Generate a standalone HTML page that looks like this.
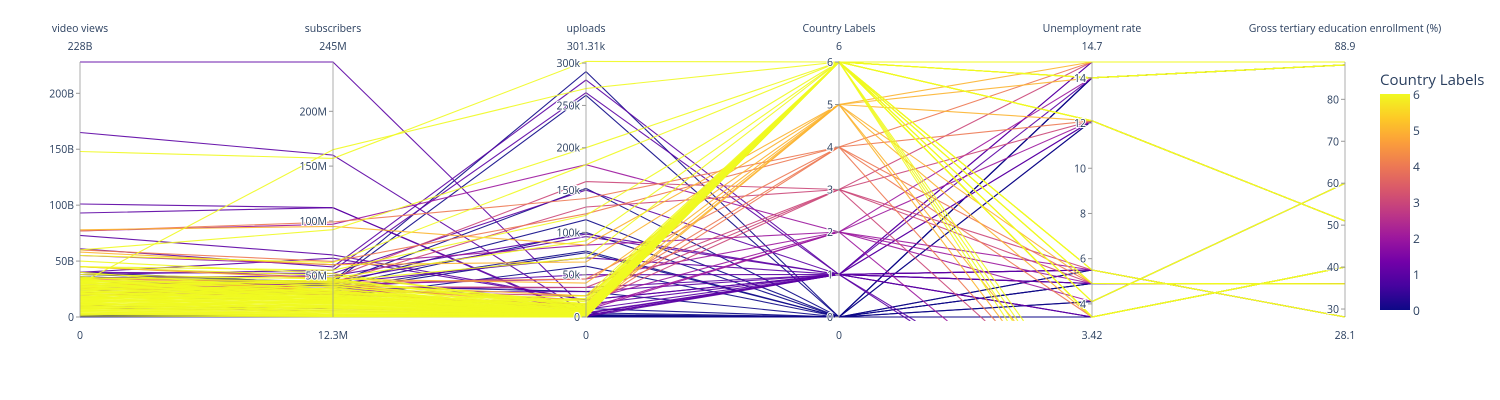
<!DOCTYPE html>
<html><head><meta charset="utf-8">
<style>
html,body{margin:0;padding:0;background:#fff;width:1500px;height:400px;overflow:hidden;}
svg{display:block;font-family:"Open Sans","Liberation Sans",sans-serif;}
text{fill:#2a3f5f;}
</style></head>
<body>
<svg id="chart" width="1500" height="400" viewBox="0 0 1500 400" xmlns="http://www.w3.org/2000/svg">
<defs>
<clipPath id="plotclip"><rect x="0" y="55" width="1500" height="266"/></clipPath>
<linearGradient id="cbgrad" x1="0" y1="1" x2="0" y2="0">
<stop offset="0" stop-color="#0d0887"/><stop offset="0.111" stop-color="#46039f"/><stop offset="0.222" stop-color="#7201a8"/><stop offset="0.333" stop-color="#9c179e"/><stop offset="0.444" stop-color="#bd3786"/><stop offset="0.556" stop-color="#d8576b"/><stop offset="0.667" stop-color="#ed7953"/><stop offset="0.778" stop-color="#fb9f3a"/><stop offset="0.889" stop-color="#fdca26"/><stop offset="1" stop-color="#f0f921"/>
</linearGradient>
</defs>
<g id="lines" clip-path="url(#plotclip)"></g>
<g id="axes"></g>
<g id="colorbar">
<text x="1380" y="85" font-size="15">Country Labels</text>
<rect x="1380" y="94" width="30" height="216" fill="url(#cbgrad)"/>
</g>
</svg>
<script>
const dimNames = ["video views","subscribers","uploads","Country Labels","Unemployment rate","Gross tertiary education enrollment (%)"];
const dimMin = [0, 12.3, 0, 0, 3.42, 28.1];
const dimMax = [228, 245, 301.31, 6, 14.7, 88.9];
const minLabels = ["0","12.3M","0","0","3.42","28.1"];
const maxLabels = ["228B","245M","301.31k","6","14.7","88.9"];
const tickValues = [[0,50,100,150,200],[50,100,150,200],[0,50,100,150,200,250,300],[0,1,2,3,4,5,6],[4,6,8,10,12,14],[30,40,50,60,70,80]];
const tickLabels = [["0","50B","100B","150B","200B"],["50M","100M","150M","200M"],["0","50k","100k","150k","200k","250k","300k"],["0","1","2","3","4","5","6"],["4","6","8","10","12","14"],["30","40","50","60","70","80"]];
const cbTicks = [0,1,2,3,4,5,6];
// rows: views(B), subscribers(M), uploads(k), country label, unemployment, tertiary
const rows = [
[0.5,13,0.5,0,14,88.2],[1,13.5,1,0,14,88.2],[0.3,12.5,0.2,0,12.1,51],[2,14,2,0,3.42,40],[1.5,13,3,0,5.5,28.1],[0.8,13,1.5,0,4.9,36],[0.2,12.8,0.8,0,4.1,60],
[35,45,290,0,14,88.2],[38,44,262,0,12.1,51],[40,43,152,0,3.42,40],[36,42,115,0,14,88.2],[30,40,100,0,5.5,28.1],[28,38,78,0,4.9,36],[26,36,76,0,3.42,40],[20,30,60,0,4.1,60],[33,41,30,0,3.42,40],[25,35,10,0,3.42,40],[18,28,5,0,3.42,40],[0.4,13,0.3,0,3.42,40],[0.6,13.2,0.6,0,4.9,36],
[228,245,9,1,14.7,88.9],[165,160,5,1,4.9,36],[101,112,0.5,1,5.5,28.1],[93,112,2,1,3.42,40],[73,69,20,1,14,88.2],[61,58,280,1,12.1,51],[38,55,265,1,4.9,36],[40,52,150,1,5.5,28.1],[35,50,98,1,3.42,40],[30,45,95,1,-1.5,20],[28,43,70,1,14.7,88.9],[26,40,50,1,12.1,51],[24,38,35,1,4.9,36],[22,35,30,1,5.5,28.1],[20,33,15,1,3.42,40],[40,66,20,1,-2,20],[10,20,4,1,5.5,28.1],[8,18,2,1,4.9,36],
[77,97,180,2,14,88.2],[55,60,85,2,12.1,51],[30,42,45,2,4.9,36],[25,38,20,2,5.5,28.1],[20,34,10,2,-2,20],[22,36,8,2,4.1,60],
[45,48,160,3,14.7,88.9],[35,44,130,3,12.1,51],[28,40,35,3,5.5,28.1],[25,36,25,3,4.9,36],[20,33,15,3,-1,20],
[77,99,140,4,14.7,88.9],[60,63,122,4,12.1,51],[34,44,45,4,3.42,40],[30,40,20,4,-1.5,20],[26,38,10,4,4.9,36],
[78,95,85,5,14.7,88.9],[58,60,65,5,14,88.2],[45,47,40,5,12.1,51],[33,42,25,5,3.42,40],[30,40,15,5,4.9,36],[28,38,8,5,-1,20],[26,36,5,5,-2,20],
[148,157,302,6,14.7,88.9],[30,165,270,6,14,88.2],[60,92,200,6,12.1,51],[55,62,180,6,5.5,28.1],[45,55,120,6,4.1,60],[35,48,90,6,3.42,40],[32,45,70,6,14.7,88.9],
[20,30,5,6,-1,20],[18,28,3,6,-1.5,20],[15,25,2,6,-2,20],[12,22,4,6,-2.5,20],
[35,45,18,6,14.7,88.9],[33,42,15,6,14.7,88.9],[32,40,12,6,14,88.2],[31,38,10,6,12.1,51],[30,36,9,6,5.5,28.1],[29,35,8,6,4.9,36],[28,34,7,6,3.42,40],[27,33,6,6,4.1,60],
[26,32,5,6,14.7,88.9],[25,31,4,6,14.7,88.9],[24,30,3.5,6,14,88.2],[23,29,3,6,12.1,51],[22,28,2.5,6,5.5,28.1],[21,27,2,6,4.9,36],[20,26,1.5,6,3.42,40],[19,25,1,6,14.7,88.9],
[18,24,0.8,6,14.7,88.9],[17,23,0.6,6,14,88.2],[16,22,0.5,6,3.42,40],[15,21,0.4,6,4.9,36],[14,20,0.3,6,5.5,28.1],[13,19,0.2,6,14.7,88.9],[12,18,0.2,6,12.1,51],[11,17,0.1,6,3.42,40],
[10,16,0.1,6,14.7,88.9],[9,15,0.1,6,14.7,88.9],[8,14.5,0.1,6,4.1,60],[7,14,0.05,6,3.42,40],[6,13.5,0.05,6,14.7,88.9],[5,13.2,0.05,6,14,88.2],[4,13,0.02,6,3.42,40],[3,12.8,0.02,6,14.7,88.9],
[34,30,14,6,14.7,88.9],[31,26,11,6,14.7,88.9],[28,20,9,6,3.42,40],[25,16,7,6,14.7,88.9],[22,14,6,6,12.1,51],[19,13,5,6,14.7,88.9],[16,38,8,6,14.7,88.9],[13,35,6,6,4.9,36],
[10,32,5,6,14.7,88.9],[7,28,3,6,14,88.2],[5,25,2,6,3.42,40],[3,22,1,6,14.7,88.9],[2,18,0.5,6,14.7,88.9],[35,25,20,6,5.5,28.1],[30,44,16,6,14.7,88.9],[27,46,13,6,14.7,88.9],
[24,47,10,6,12.1,51],[21,43,7,6,14.7,88.9],[18,41,4,6,14.7,88.9],[15,39,2,6,3.42,40],[12,37,1,6,14.7,88.9],[9,27,0.5,6,14.7,88.9],[6,21,0.3,6,14,88.2],[33,33,4,6,14.7,88.9],
[29,31,2,6,14.7,88.9],[26,29,1,6,4.1,60],[23,27,0.5,6,14.7,88.9],[17,31,3,6,14.7,88.9],[14,29,2,6,12.1,51],[11,26,1,6,14.7,88.9],[8,23,0.5,6,14.7,88.9],[40,36,12,6,14.7,88.9],
[45,50,14,6,14.7,88.9],[50,52,11,6,14,88.2],[38,47,9,6,14.7,88.9],[36,34,20,6,3.42,40],[34,28,25,6,14.7,88.9],[32,24,22,6,14.7,88.9],[1,12.5,0.1,6,14.7,88.9],[2.5,13,0.2,6,14.7,88.9]
];
const axisX = [80,333,586,839,1092,1345];
const yTop = 62, yBot = 317, yClip = 321;
const NS = "http://www.w3.org/2000/svg";
const stops = [[0,[13,8,135]],[0.111,[70,3,159]],[0.222,[114,1,168]],[0.333,[156,23,158]],[0.444,[189,55,134]],[0.556,[216,87,107]],[0.667,[237,121,83]],[0.778,[251,159,58]],[0.889,[253,202,38]],[1,[240,249,33]]];
function color(v){
  const t = v/6;
  for(let i=1;i<stops.length;i++){
    if(t<=stops[i][0]){
      const a=stops[i-1], b=stops[i], f=(t-a[0])/(b[0]-a[0]);
      const c=a[1].map((x,k)=>Math.round(x+(b[1][k]-x)*f));
      return `rgb(${c[0]},${c[1]},${c[2]})`;
    }
  }
  return "rgb(240,249,33)";
}
function yScale(d,v){ return yBot - (v-dimMin[d])/(dimMax[d]-dimMin[d])*(yBot-yTop); }
function truncate(pts){
  const out=[pts[0]];
  for(let i=1;i<pts.length;i++){
    const [x0,y0]=out[out.length-1], [x1,y1]=pts[i];
    if(y1>yClip){
      const f=(yClip-y0)/(y1-y0);
      out.push([x0+(x1-x0)*f,yClip]);
      break;
    }
    out.push(pts[i]);
  }
  return out;
}
const lg = document.getElementById("lines");
const sorted = rows.map((r,i)=>[r,i]).sort((a,b)=>a[0][3]-b[0][3] || a[1]-b[1]);
sorted.forEach(([r,i])=>{
  const p = document.createElementNS(NS,"polyline");
  const pts = truncate(r.map((v,d)=>[axisX[d],yScale(d,v)]));
  p.setAttribute("points", pts.map(q=>q[0].toFixed(1)+","+q[1].toFixed(1)).join(" "));
  p.setAttribute("fill","none");
  p.setAttribute("stroke",color(r[3]));
  p.setAttribute("stroke-width","1.1");
  p.setAttribute("stroke-opacity","0.9");
  
  
  lg.appendChild(p);
});
const ag = document.getElementById("axes");
function mk(tag,attrs,txt){const e=document.createElementNS(NS,tag);for(const k in attrs)e.setAttribute(k,attrs[k]);if(txt!=null)e.textContent=txt;return e;}
dimNames.forEach((name,d)=>{
  const x = axisX[d];
  const g = mk("g",{});
  
  
  g.appendChild(mk("line",{x1:x,y1:yTop,x2:x,y2:yBot,stroke:"#999","stroke-width":1,"stroke-opacity":0.8}));
  const t = mk("text",{x:x,y:32,"font-size":10.5,"text-anchor":"middle"},name);
  
  
  g.appendChild(t);
  const mx = mk("text",{x:x,y:50,"font-size":10.5,"text-anchor":"middle"},maxLabels[d]);
  
  
  g.appendChild(mx);
  const mn = mk("text",{x:x,y:339,"font-size":10.5,"text-anchor":"middle"},minLabels[d]);
  
  
  g.appendChild(mn);
  tickValues[d].forEach((tv,k)=>{
    const y = yScale(d,tv);
    g.appendChild(mk("line",{x1:x-4,y1:y,x2:x,y2:y,stroke:"#999","stroke-width":1}));
    const tl = mk("text",{x:x-6,y:y+4,"font-size":10.5,"text-anchor":"end",stroke:"#fff","stroke-width":2,"paint-order":"stroke"},tickLabels[d][k]);
    
    
    g.appendChild(tl);
  });
  ag.appendChild(g);
});
const cb = document.getElementById("colorbar");
cbTicks.forEach(v=>{
  const y = 310 - v/6*216;
  const t = mk("text",{x:1413,y:y+5,"font-size":12},String(v));
  
  
  cb.appendChild(t);
});
</script>
</body></html>
